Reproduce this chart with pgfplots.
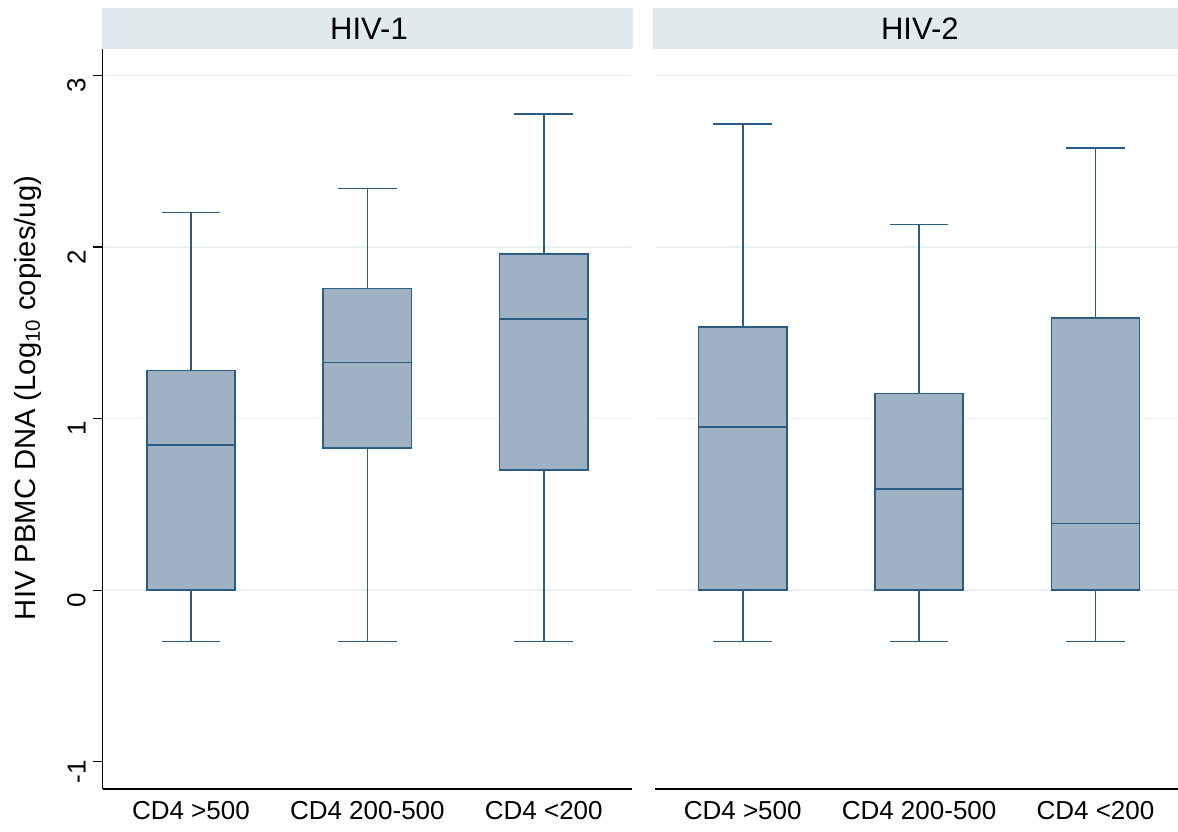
\documentclass[border=0pt]{standalone}
\usepackage{pgfplots}
\pgfplotsset{compat=1.18}
\usepgfplotslibrary{statistics}
\usepackage{fontspec}
\setmainfont{Liberation Sans}
\definecolor{boxedge}{HTML}{2A5C84}
\definecolor{boxfill}{HTML}{9FB2C4}
\definecolor{strip}{HTML}{E0EAED}
\definecolor{gridc}{HTML}{EAF2F1}
\begin{document}
\begin{tikzpicture}[x=1pt,y=1pt]
\useasboundingbox (0,0) rectangle (589,415.5);
\fill[strip] (50.85,390.85) rectangle (316.5,411.35);
\fill[strip] (326.7,390.85) rectangle (589,411.35);
\node[font=\fontsize{15.5}{18}\selectfont] at (184.5,401.1) {HIV-1};
\node[font=\fontsize{15.5}{18}\selectfont] at (459.9,401.1) {HIV-2};
\node[rotate=90, font=\fontsize{14.6}{18}\selectfont] at (14,216.5) {HIV PBMC DNA (Log\textsubscript{10} copies/ug)};

\pgfplotsset{panel/.style={
  scale only axis, height=369.85pt,
  ymin=-1.159, ymax=3.152, xmin=0.5,
  ytick={-1,0,1,2,3}, yticklabels={-1,0,1,2,3},
  extra y ticks={0,1,2,3}, extra y tick labels={},
  extra y tick style={ymajorgrids=true, major tick length=0pt},
  ymajorgrids=false,
  grid style={draw=gridc, line width=0.8pt},
  xtick={1,2,3}, xticklabels={CD4 >500, CD4 200-500, CD4 <200},
  axis x line*=bottom, axis y line*=left,
  axis line style={black, line width=0.55pt},
  x tick style={draw=none},
  y tick style={black, line width=0.55pt},
  tick align=outside, major tick length=5pt,
  tick label style={font=\fontsize{13}{15}\selectfont},
  yticklabel style={rotate=90, anchor=south, xshift=-5pt},
  xticklabel style={yshift=2.5pt},
  boxplot/draw direction=y,
  boxplot/box extend=0.5,
  boxplot/whisker extend=0.333,
  bx/.style={draw=boxedge, fill=boxfill, line width=0.8pt, solid, mark=none},
}}

\begin{axis}[panel, at={(51.35pt,21pt)}, anchor=south west, width=264.65pt, xmax=3.5]
\addplot[bx, boxplot prepared={draw position=1, lower whisker=-0.30, lower quartile=0, median=0.846, upper quartile=1.279, upper whisker=2.20}] coordinates {};
\addplot[bx, boxplot prepared={draw position=2, lower whisker=-0.30, lower quartile=0.83, median=1.327, upper quartile=1.757, upper whisker=2.34}] coordinates {};
\addplot[bx, boxplot prepared={draw position=3, lower whisker=-0.30, lower quartile=0.70, median=1.58, upper quartile=1.96, upper whisker=2.774}] coordinates {};
\end{axis}

\begin{axis}[panel, at={(327.25pt,21pt)}, anchor=south west, width=261.75pt, xmax=3.4677,
  y axis line style={draw=none}, y tick style={draw=none}, yticklabels={}]
\addplot[bx, boxplot prepared={draw position=1, lower whisker=-0.30, lower quartile=0, median=0.952, upper quartile=1.535, upper whisker=2.715}] coordinates {};
\addplot[bx, boxplot prepared={draw position=2, lower whisker=-0.30, lower quartile=0, median=0.589, upper quartile=1.147, upper whisker=2.13}] coordinates {};
\addplot[bx, boxplot prepared={draw position=3, lower whisker=-0.30, lower quartile=0, median=0.389, upper quartile=1.586, upper whisker=2.577}] coordinates {};
\end{axis}
\end{tikzpicture}
\end{document}
